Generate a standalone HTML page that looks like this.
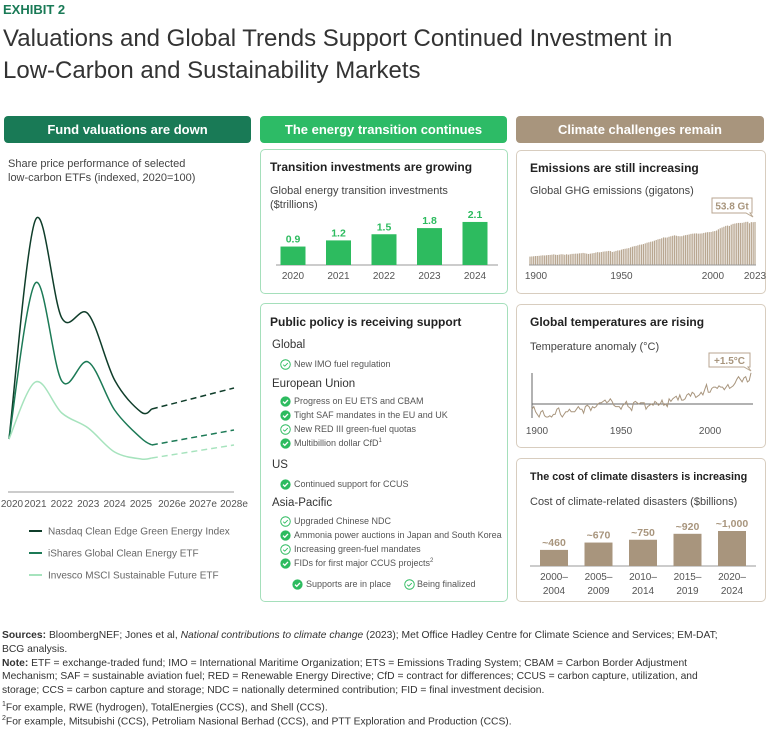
<!DOCTYPE html>
<html><head><meta charset="utf-8">
<style>
*{margin:0;padding:0;box-sizing:border-box}
body{width:768px;height:726px;background:#fff;font-family:"Liberation Sans",sans-serif;color:#333;position:relative;overflow:hidden}
.a{position:absolute;white-space:nowrap}
.hdr{position:absolute;height:27px;border-radius:4px;color:#fff;font-weight:bold;font-size:13px;text-align:center;line-height:27px}
.card{position:absolute;border-radius:5px;background:#fff}
.ct{position:absolute;font-weight:bold;font-size:12px;color:#222;white-space:nowrap}
.cs{position:absolute;font-size:11px;color:#444;white-space:nowrap;line-height:14px}
.pg{position:absolute;left:11px;font-size:11.5px;color:#333}
.pi{position:absolute;left:33px;font-size:9px;color:#555;white-space:nowrap}
.ic{position:absolute;left:19px;width:11px;height:11px}
.ft{position:absolute;left:2px;font-size:10.3px;color:#333;white-space:nowrap;line-height:13.8px}
</style></head><body>
<div class="a" style="left:3px;top:2px;font-size:13px;font-weight:bold;color:#197a56">EXHIBIT 2</div>
<div class="a" style="left:3px;top:23px;font-size:24px;line-height:32px;color:#333">Valuations and Global Trends Support Continued Investment in<br>Low-Carbon and Sustainability Markets</div>

<div class="hdr" style="left:4px;top:116px;width:247px;background:#197a56">Fund valuations are down</div>
<div class="hdr" style="left:260px;top:116px;width:247px;background:#2dbb66">The energy transition continues</div>
<div class="hdr" style="left:516px;top:116px;width:248px;background:#a8957d">Climate challenges remain</div>

<div class="cs" style="left:8px;top:157px">Share price performance of selected<br>low-carbon ETFs (indexed, 2020=100)</div>
<svg id="etf" class="a" style="left:0;top:0" width="256" height="600"></svg>

<div class="card" style="left:260px;top:149px;width:248px;height:145px;border:1px solid #a5dfbb">
<div class="ct" style="left:9px;top:10px">Transition investments are growing</div>
<div class="cs" style="left:9px;top:34px">Global energy transition investments<br>($trillions)</div></div>
<svg id="inv" class="a" style="left:260px;top:149px" width="248" height="145"></svg>

<div class="card" style="left:260px;top:303px;width:248px;height:299px;border:1px solid #a5dfbb">
<div class="ct" style="left:9px;top:11px">Public policy is receiving support</div>
<div id="pol"></div></div>

<div class="card" style="left:516px;top:150px;width:250px;height:144px;border:1px solid #d8cdbf">
<div class="ct" style="left:13px;top:10px">Emissions are still increasing</div>
<div class="cs" style="left:13px;top:33px">Global GHG emissions (gigatons)</div></div>
<svg id="emi" class="a" style="left:516px;top:150px" width="250" height="144"></svg>

<div class="card" style="left:516px;top:304px;width:250px;height:144px;border:1px solid #d8cdbf">
<div class="ct" style="left:13px;top:10px">Global temperatures are rising</div>
<div class="cs" style="left:13px;top:35px">Temperature anomaly (°C)</div></div>
<svg id="tmp" class="a" style="left:516px;top:304px" width="250" height="144"></svg>

<div class="card" style="left:516px;top:458px;width:250px;height:144px;border:1px solid #d8cdbf">
<div class="ct" style="left:13px;top:12px;font-size:10.8px">The cost of climate disasters is increasing</div>
<div class="cs" style="left:13px;top:36px">Cost of climate-related disasters ($billions)</div></div>
<svg id="dis" class="a" style="left:516px;top:458px" width="250" height="144"></svg>

<div>
<div class="ft" style="top:629px"><b>Sources:</b> BloombergNEF; Jones et al, <i>National contributions to climate change</i> (2023); Met Office Hadley Centre for Climate Science and Services; EM-DAT;</div>
<div class="ft" style="top:643px">BCG analysis.</div>
<div class="ft" style="top:657px"><b>Note:</b> ETF = exchange-traded fund; IMO = International Maritime Organization; ETS = Emissions Trading System; CBAM = Carbon Border Adjustment</div>
<div class="ft" style="top:670px">Mechanism; SAF = sustainable aviation fuel; RED = Renewable Energy Directive; CfD = contract for differences; CCUS = carbon capture, utilization, and</div>
<div class="ft" style="top:684px">storage; CCS = carbon capture and storage; NDC = nationally determined contribution; FID = final investment decision.</div>
<div class="ft" style="top:698px"><sup style="font-size:7px">1</sup>For example, RWE (hydrogen), TotalEnergies (CCS), and Shell (CCS).</div>
<div class="ft" style="top:712px"><sup style="font-size:7px">2</sup>For example, Mitsubishi (CCS), Petroliam Nasional Berhad (CCS), and PTT Exploration and Production (CCS).</div>
</div>

<script>
// ETF chart data
const etfYears=[2020,2021,2022,2023,2024,2025,2025.35];
const etfTickLabels=["2020","2021","2022","2023","2024","2025","2026e","2027e","2028e"];
const etfTickYears=[2020,2021,2022,2023,2024,2025,2026,2027,2028];
const nasdaq=[100,319,221,225,159,127,130];
const ishares=[100,256,158,177,129,101,94];
const invesco=[100,157,126,111,87,80,81];
const fcYears=[2025.35,2028];
const nasdaqFc=[130,151];
const isharesFc=[94,109];
const invescoFc=[81,94];
// investment bars
const invCats=["2020","2021","2022","2023","2024"];
const invVals=[0.9,1.2,1.5,1.8,2.1];
// emissions 1900-2023
const emiStart=1900;
const emiVals=[10.5,10.7,10.9,11.2,11.3,11.5,11.8,12.1,11.9,12.2,
12.5,12.6,12.9,13.3,12.8,12.6,13.0,13.4,13.3,12.8,
13.4,12.9,13.4,13.9,14.0,14.2,14.2,14.6,14.7,15.1,
14.7,14.2,13.8,14.2,14.6,15.0,15.6,16.1,15.8,16.2,
16.7,17.0,17.2,17.6,17.4,16.3,16.8,17.6,18.2,18.3,
19.2,19.9,20.3,20.7,21.1,22.1,22.9,23.5,23.9,24.6,
25.4,25.6,26.2,27.0,27.9,28.4,29.1,29.5,30.4,31.3,
32.1,32.6,33.4,34.5,34.3,34.4,35.3,35.9,36.5,37.1,
36.6,36.1,35.9,36.0,36.8,37.3,37.7,38.2,38.9,39.2,
39.4,39.5,39.2,39.3,39.5,40.1,40.6,41.0,41.1,41.3,
42.0,42.4,43.1,44.6,45.9,46.9,47.8,48.9,49.3,48.8,
50.4,51.4,51.8,52.3,52.6,52.6,52.7,53.2,53.9,54.0,
52.2,53.6,53.5,53.8];
const emiTicks=[1900,1950,2000,2023];
// temperature anomaly 1900-2023
const tmpStart=1900;
const tmpVals=[-0.2,-0.1,-0.3,-0.4,-0.5,-0.3,-0.25,-0.45,-0.5,-0.5,
-0.45,-0.5,-0.4,-0.4,-0.2,-0.15,-0.4,-0.5,-0.4,-0.3,
-0.3,-0.2,-0.3,-0.3,-0.3,-0.2,-0.1,-0.2,-0.2,-0.35,
-0.1,-0.05,-0.1,-0.25,-0.1,-0.15,-0.1,0.0,0.05,0.05,
0.1,0.15,0.05,0.1,0.2,0.1,-0.05,-0.1,-0.1,-0.1,
-0.2,-0.05,0.0,0.1,-0.1,-0.15,-0.25,0.05,0.1,0.05,
0.0,0.05,0.05,0.05,-0.2,-0.1,-0.05,0.0,-0.05,0.1,
0.05,-0.05,0.0,0.15,-0.05,0.0,-0.1,0.2,0.1,0.2,
0.25,0.3,0.15,0.35,0.15,0.15,0.2,0.35,0.4,0.3,
0.45,0.4,0.25,0.3,0.35,0.45,0.35,0.55,0.75,0.45,
0.45,0.6,0.65,0.65,0.6,0.7,0.65,0.65,0.55,0.65,
0.75,0.6,0.65,0.7,0.8,0.95,1.05,0.95,0.85,1.0,
1.05,0.85,0.9,1.2];
const tmpTicks=[1900,1950,2000];
// disasters
const disCats1=["2000–","2005–","2010–","2015–","2020–"];
const disCats2=["2004","2009","2014","2019","2024"];
const disVals=[460,670,750,920,1000];
const disLabels=["~460","~670","~750","~920","~1,000"];

const NS="http://www.w3.org/2000/svg";
function mk(svg,tag,at,txt){const e=document.createElementNS(NS,tag);for(const k in at)e.setAttribute(k,at[k]);if(txt!==undefined)e.textContent=txt;svg.appendChild(e);return e;}
function smooth(pts){let d="M"+pts[0][0]+","+pts[0][1];for(let i=0;i<pts.length-1;i++){const p0=pts[Math.max(0,i-1)],p1=pts[i],p2=pts[i+1],p3=pts[Math.min(pts.length-1,i+2)];const t=6;d+=" C"+(p1[0]+(p2[0]-p0[0])/t)+","+(p1[1]+(p2[1]-p0[1])/t)+" "+(p2[0]-(p3[0]-p1[0])/t)+","+(p2[1]-(p3[1]-p1[1])/t)+" "+p2[0]+","+p2[1];}return d;}

// ETF
(function(){const s=document.getElementById('etf');
const x=y=>y<=2025?9+(y-2020)*26.4:141+(y-2025)*31;
const yv=v=>439-(v-100);
const ax=mk(s,'line',{x1:8,x2:234,y1:492,y2:492,stroke:'#999','stroke-width':1});

etfTickYears.forEach((yr,i)=>{const t=mk(s,'text',{x:x(yr)+(i==0?3:0),y:507,'font-size':10,fill:'#555','text-anchor':'middle','font-family':'Liberation Sans'},etfTickLabels[i]);
});
const series=[[nasdaq,nasdaqFc,'#0f3d2a','Nasdaq Clean Edge Green Energy Index'],[ishares,isharesFc,'#1c7a56','iShares Global Clean Energy ETF'],[invesco,invescoFc,'#a6e3bd','Invesco MSCI Sustainable Future ETF']];
series.forEach((sr,k)=>{const pts=etfYears.map((yr,i)=>[x(yr),yv(sr[0][i])]);
const p=mk(s,'path',{d:smooth(pts),fill:'none',stroke:sr[2],'stroke-width':1.5});

const f=mk(s,'path',{d:'M'+x(fcYears[0])+','+yv(sr[1][0])+' L'+x(fcYears[1])+','+yv(sr[1][1]),fill:'none',stroke:sr[2],'stroke-width':1.5,'stroke-dasharray':'6,4'});

const ly=531+k*22;
const l=mk(s,'line',{x1:29,x2:42,y1:ly,y2:ly,stroke:sr[2],'stroke-width':2});

const t=mk(s,'text',{x:48,y:ly+3.5,'font-size':10,fill:'#666','font-family':'Liberation Sans'},sr[3]);
});
})();

// Investment bars
(function(){const s=document.getElementById('inv');const base=116,k=20.5,w=25;
const cx=i=>33+i*45.5;
const ax=mk(s,'line',{x1:16,x2:238,y1:base,y2:base,stroke:'#999'});

invVals.forEach((v,i)=>{const b=mk(s,'rect',{x:cx(i)-w/2,y:base-v*k,width:w,height:v*k,fill:'#2dbb5f'});

const t=mk(s,'text',{x:cx(i),y:base-v*k-4,'font-size':10.5,'font-weight':'bold',fill:'#2dbb5f','text-anchor':'middle','font-family':'Liberation Sans'},v.toFixed(1));

const c=mk(s,'text',{x:cx(i),y:base+14,'font-size':10,fill:'#555','text-anchor':'middle','font-family':'Liberation Sans'},invCats[i]);
});
})();

// Emissions
(function(){const s=document.getElementById('emi');const base=115,k=0.8;
const x=yr=>14+(yr-1900)*(225/123);
emiVals.forEach((v,i)=>{const b=mk(s,'rect',{x:x(emiStart+i)-0.6,y:base-v*k,width:1.2,height:v*k,fill:'#b8a690'});
});
const ax=mk(s,'line',{x1:13,x2:240,y1:base,y2:base,stroke:'#999'});

emiTicks.forEach(yr=>{const t=mk(s,'text',{x:x(yr)+(yr==1900?6:0),y:base+14,'font-size':10,fill:'#555','text-anchor':'middle','font-family':'Liberation Sans'},String(yr));
});
const lastV=emiVals[emiVals.length-1];
const bx=mk(s,'path',{d:'M196,48 H236 V63 H234 L237,67 L230,63 H196 Z',fill:'#fff',stroke:'#b8a690'});

const t=mk(s,'text',{x:216,y:59.5,'font-size':10,'font-weight':'bold',fill:'#a8957d','text-anchor':'middle','font-family':'Liberation Sans'},lastV+' Gt');

})();

// Temperature
(function(){const s=document.getElementById('tmp');const zero=100,k=26;
const x=yr=>16+(yr-1900)*(219/123);
const va=mk(s,'line',{x1:16,x2:16,y1:69,y2:114,stroke:'#666'});

const za=mk(s,'line',{x1:16,x2:237,y1:zero,y2:zero,stroke:'#666'});

const d=tmpVals.map((v,i)=>(i?'L':'M')+x(tmpStart+i).toFixed(1)+','+(zero-v*k).toFixed(1)).join(' ');
const p=mk(s,'path',{d:d,fill:'none',stroke:'#a8957d','stroke-width':1});

tmpTicks.forEach(yr=>{const t=mk(s,'text',{x:x(yr)+(yr==1900?5:0),y:130,'font-size':10,fill:'#555','text-anchor':'middle','font-family':'Liberation Sans'},String(yr));
});
const bx=mk(s,'path',{d:'M193,49 H234 V63 H232 L235,67 L228,63 H193 Z',fill:'#fff',stroke:'#b8a690'});

const t=mk(s,'text',{x:213.5,y:60,'font-size':10,'font-weight':'bold',fill:'#a8957d','text-anchor':'middle','font-family':'Liberation Sans'},'+1.5°C');

})();

// Disasters
(function(){const s=document.getElementById('dis');const base=108,k=0.035,w=28;
const cx=i=>38+i*44.5;
const ax=mk(s,'line',{x1:14,x2:240,y1:base,y2:base,stroke:'#999'});

disVals.forEach((v,i)=>{const b=mk(s,'rect',{x:cx(i)-w/2,y:base-v*k,width:w,height:v*k,fill:'#a8957d'});

const t=mk(s,'text',{x:cx(i),y:base-v*k-4,'font-size':10.5,'font-weight':'bold',fill:'#a8957d','text-anchor':'middle','font-family':'Liberation Sans'},disLabels[i]);

const c1=mk(s,'text',{x:cx(i),y:base+14,'font-size':10,fill:'#555','text-anchor':'middle','font-family':'Liberation Sans'},disCats1[i]);

const c2=mk(s,'text',{x:cx(i),y:base+28,'font-size':10,fill:'#555','text-anchor':'middle','font-family':'Liberation Sans'},disCats2[i]);
});
})();

// Policy list
(function(){const host=document.getElementById('pol');
const full='<svg class="ic" viewBox="0 0 12 12"><circle cx="6" cy="6" r="5.6" fill="#2dbb5f"/><path d="M3.3,6.2 L5.2,8 L8.7,4.3" fill="none" stroke="#fff" stroke-width="1.5"/></svg>';
const open='<svg class="ic" viewBox="0 0 12 12"><circle cx="6" cy="6" r="5.2" fill="none" stroke="#2dbb5f" stroke-width="1"/><path d="M3.5,6.2 L5.2,7.8 L8.5,4.4" fill="none" stroke="#2dbb5f" stroke-width="1"/></svg>';
const rows=[['g','Global',35],['o','New IMO fuel regulation',54],['g','European Union',74],['f','Progress on EU ETS and CBAM',91],['f','Tight SAF mandates in the EU and UK',105],['o','New RED III green-fuel quotas',119],['f','Multibillion dollar CfD<sup style="font-size:6px">1</sup>',133],['g','US',155],['f','Continued support for CCUS',174],['g','Asia-Pacific',193],['o','Upgraded Chinese NDC',211],['f','Ammonia power auctions in Japan and South Korea',225],['o','Increasing green-fuel mandates',239],['f','FIDs for first major CCUS projects<sup style="font-size:6px">2</sup>',253]];
let h='';rows.forEach(r=>{if(r[0]=='g')h+='<div class="pg" style="top:'+r[2]+'px">'+r[1]+'</div>';
else h+='<div><div style="position:absolute;top:'+(r[2]+1)+'px;left:0;width:40px;height:12px">'+(r[0]=='f'?full:open)+'</div><div class="pi" style="top:'+(r[2]+1)+'px">'+r[1]+'</div></div>';});
h+='<div><div style="position:absolute;top:275px;left:12px;width:20px;height:12px">'+full+'</div><div class="pi" style="top:275px;left:45px">Supports are in place</div><div style="position:absolute;top:275px;left:124px;width:20px;height:12px">'+open+'</div><div class="pi" style="top:275px;left:156px">Being finalized</div></div>';
host.innerHTML=h;})();
</script>
</body></html>
